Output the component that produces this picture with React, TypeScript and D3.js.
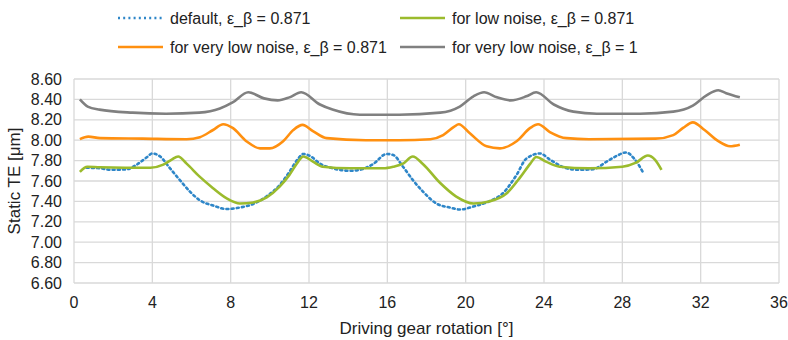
import * as d3 from 'd3';

type Pt = [number, number];

const xTicks = [0, 4, 8, 12, 16, 20, 24, 28, 32, 36];
const yTicks = [6.6, 6.8, 7.0, 7.2, 7.4, 7.6, 7.8, 8.0, 8.2, 8.4, 8.6];

const defaultSeries: Pt[] = [
  [0.65, 7.73], [1.33, 7.725], [1.84, 7.71], [2.7, 7.715], [3.2, 7.76], [3.7, 7.83], [4.0, 7.87],
  [4.4, 7.84], [4.9, 7.725], [5.4, 7.61], [5.9, 7.5], [6.43, 7.41], [7.1, 7.36], [7.8, 7.325],
  [8.47, 7.34], [9.15, 7.375], [9.84, 7.45], [10.5, 7.56], [11.0, 7.69], [11.45, 7.82], [11.7, 7.865],
  [12.1, 7.84], [12.56, 7.77], [13.2, 7.725], [14.1, 7.7], [14.6, 7.71], [15.3, 7.77], [15.96, 7.865],
  [16.3, 7.855], [16.8, 7.74], [17.3, 7.61], [17.8, 7.5], [18.5, 7.38], [19.2, 7.34], [19.7, 7.32],
  [20.4, 7.35], [21.2, 7.4], [21.9, 7.48], [22.6, 7.66], [23.1, 7.82], [23.8, 7.87], [24.3, 7.81],
  [25.0, 7.735], [25.7, 7.71], [26.5, 7.715], [27.2, 7.79], [27.7, 7.845], [28.2, 7.88], [28.6, 7.82],
  [29.1, 7.67],
];

const lowNoise: Pt[] = [
  [0.3, 7.69], [0.68, 7.74], [1.33, 7.735], [3.9, 7.73], [4.56, 7.76], [4.99, 7.81], [5.32, 7.84],
  [5.75, 7.77], [6.43, 7.64], [7.1, 7.53], [7.8, 7.43], [8.47, 7.38], [9.15, 7.39], [9.84, 7.44],
  [10.5, 7.545], [11.0, 7.66], [11.45, 7.79], [11.7, 7.84], [12.2, 7.79], [12.7, 7.74], [14.1, 7.725],
  [15.8, 7.725], [16.3, 7.74], [16.8, 7.77], [17.3, 7.84], [17.8, 7.77], [18.7, 7.58], [19.5, 7.45],
  [20.4, 7.38], [21.2, 7.4], [22.1, 7.48], [22.8, 7.64], [23.3, 7.77], [23.6, 7.835], [24.1, 7.79],
  [24.8, 7.74], [26.3, 7.725], [28.0, 7.74], [28.7, 7.78], [29.3, 7.85], [29.66, 7.81], [30.0, 7.71],
];

const veryLowNoise: Pt[] = [
  [0.3, 8.01], [0.73, 8.035], [1.33, 8.02], [3.5, 8.015], [5.75, 8.01], [6.43, 8.03], [7.1, 8.1],
  [7.62, 8.156], [8.1, 8.12], [8.8, 7.99], [9.5, 7.92], [10.0, 7.92], [10.68, 7.99], [11.2, 8.1],
  [11.67, 8.15], [12.2, 8.09], [12.9, 8.02], [14.9, 8.0], [16.6, 8.0], [18.2, 8.01], [18.85, 8.05],
  [19.4, 8.13], [19.65, 8.156], [20.2, 8.07], [21.07, 7.94], [21.75, 7.92], [22.6, 7.99], [23.3, 8.12],
  [23.7, 8.156], [24.3, 8.08], [25.15, 8.02], [26.3, 8.01], [29.7, 8.015], [30.6, 8.05], [31.1, 8.12],
  [31.6, 8.175], [32.2, 8.1], [32.9, 7.99], [33.5, 7.94], [34.0, 7.955],
];

const veryLowNoiseEps1: Pt[] = [
  [0.3, 8.4], [0.7, 8.33], [1.3, 8.3], [3.0, 8.27], [4.7, 8.26], [6.4, 8.27], [7.45, 8.31],
  [8.1, 8.37], [8.9, 8.47], [9.7, 8.41], [10.4, 8.39], [11.0, 8.42], [11.6, 8.47], [12.56, 8.35],
  [13.2, 8.3], [14.6, 8.25], [16.6, 8.25], [18.7, 8.27], [19.7, 8.33], [20.4, 8.43], [20.94, 8.47],
  [21.6, 8.42], [22.3, 8.39], [23.1, 8.43], [23.6, 8.47], [24.5, 8.35], [25.5, 8.28], [26.7, 8.26],
  [28.9, 8.26], [30.6, 8.28], [31.6, 8.34], [32.3, 8.44], [32.9, 8.49], [33.3, 8.46], [34.0, 8.42],
];

const seriesList = [
  { name: 'default, ε_β = 0.871', data: defaultSeries, color: '#2e86c8', dash: '2,3.2' },
  { name: 'for low noise, ε_β = 0.871', data: lowNoise, color: '#9bbb2d', dash: null },
  { name: 'for very low noise, ε_β = 0.871', data: veryLowNoise, color: '#ff9010', dash: null },
  { name: 'for very low noise, ε_β = 1', data: veryLowNoiseEps1, color: '#808080', dash: null },
];

const W = 788;
const H = 340;
const margin = { top: 79, right: 9, bottom: 57, left: 74 };
const FONT = '"Liberation Sans", Arial, sans-serif';

export default function App() {
  const innerW = W - margin.left - margin.right;
  const innerH = H - margin.top - margin.bottom;

  const x = d3.scaleLinear().domain([0, 36]).range([margin.left, margin.left + innerW]);
  const y = d3.scaleLinear().domain([6.6, 8.6]).range([margin.top + innerH, margin.top]);

  const line = d3.line<Pt>()
    .x(d => x(d[0]))
    .y(d => y(d[1]))
    .curve(d3.curveMonotoneX);

  const legendPos = [
    { lx: 118, ly: 18 },
    { lx: 400, ly: 18 },
    { lx: 118, ly: 47 },
    { lx: 400, ly: 47 },
  ];

  return (
    <svg width={W} height={H} style={{ position: 'absolute', left: 0, top: 0, background: '#fff' }}>
      {/* grid */}
      <g stroke="#d9d9d9" strokeWidth={1.3}>
        {yTicks.map(t => (
          <line key={'gy' + t} x1={x(0)} x2={x(36)} y1={y(t)} y2={y(t)} />
        ))}
        {xTicks.map(t => (
          <line key={'gx' + t} x1={x(t)} x2={x(t)} y1={y(6.6)} y2={y(8.6)} />
        ))}
      </g>

      {/* tick labels */}
      <g fontFamily={FONT} fontSize={16} fill="#222">
        {yTicks.map(t => (
          <text key={'ly' + t} x={x(0) - 12} y={y(t)} dy="0.35em" textAnchor="end">
            {t.toFixed(2)}
          </text>
        ))}
        {xTicks.map(t => (
          <text key={'lx' + t} x={x(t)} y={308} textAnchor="middle">
            {t}
          </text>
        ))}
      </g>

      {/* axis titles */}
      <text x={x(18)} y={334} textAnchor="middle" fontFamily={FONT} fontSize={17} fill="#222">
        Driving gear rotation [°]
      </text>
      <text
        transform={`translate(20, ${y(7.6)}) rotate(-90)`}
        textAnchor="middle"
        fontFamily={FONT}
        fontSize={17}
        fill="#222"
      >
        Static TE [μm]
      </text>

      {/* series */}
      {seriesList.map(s => (
        <path
          key={s.name}
          d={line(s.data) || ''}
          fill="none"
          stroke={s.color}
          strokeWidth={2.6}
          strokeDasharray={s.dash || undefined}
          strokeLinecap={s.dash ? 'round' : 'butt'}
        />
      ))}

      {/* legend */}
      <g fontFamily={FONT} fontSize={16} fill="#222">
        {seriesList.map((s, i) => {
          const p = legendPos[i];
          return (
            <g key={'lg' + i}>
              <line
                x1={p.lx}
                x2={p.lx + 45}
                y1={p.ly}
                y2={p.ly}
                stroke={s.color}
                strokeWidth={2.6}
                strokeDasharray={s.dash || undefined}
              />
              <text x={p.lx + 52} y={p.ly} dy="0.35em">
                {s.name}
              </text>
            </g>
          );
        })}
      </g>
    </svg>
  );
}
